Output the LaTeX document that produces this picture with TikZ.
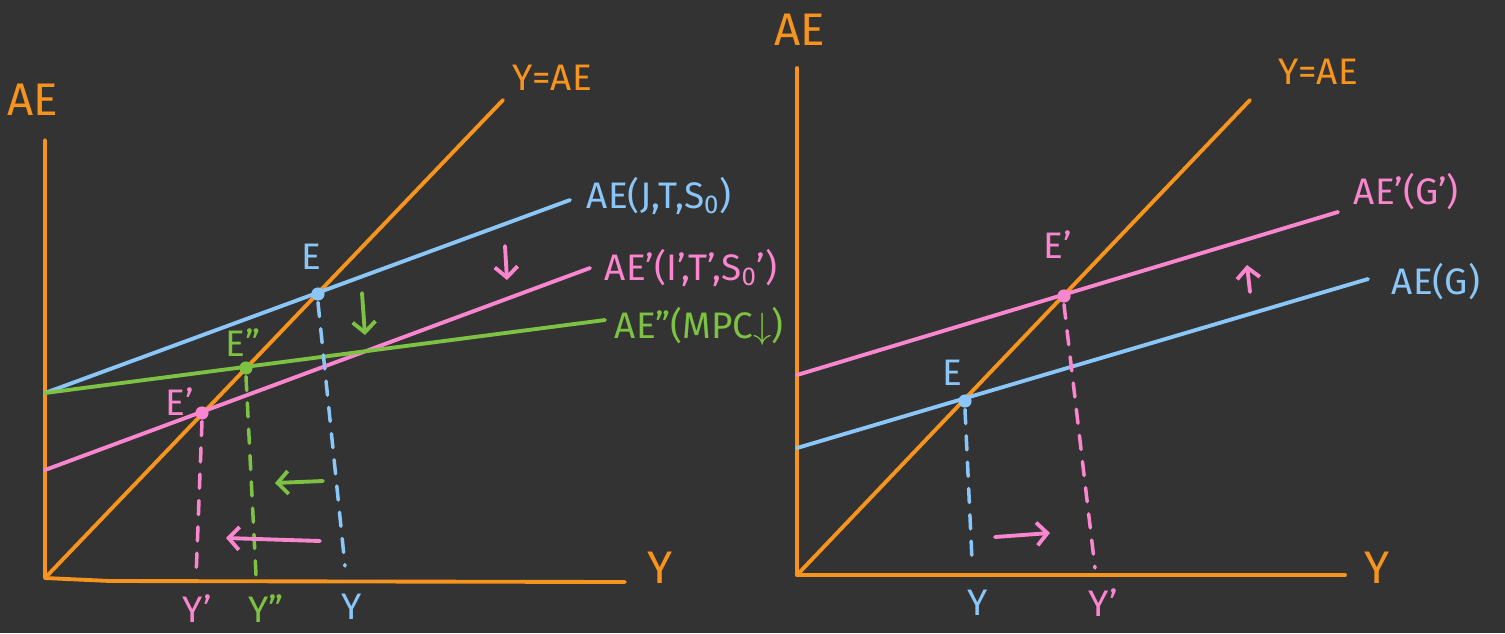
\documentclass[tikz,border=0pt]{standalone}
\usepackage{fontspec}
\setmainfont{Fira Sans}
\usetikzlibrary{arrows.meta}
\definecolor{bg}{HTML}{333333}
\definecolor{aeorange}{HTML}{F7941D}
\definecolor{aeblue}{HTML}{8AC6F7}
\definecolor{aepink}{HTML}{FA86CF}
\definecolor{aegreen}{HTML}{7DC243}
\begin{document}
\begin{tikzpicture}[x=0.02cm,y=-0.02cm, line width=2.2pt, line cap=round, line join=round,
  dot/.style={circle,fill,inner sep=0pt,minimum size=7.5pt},
  lbl/.style={font=\fontsize{21}{24}\selectfont, inner sep=0pt},
  axlbl/.style={font=\fontsize{26}{30}\selectfont, inner sep=0pt},
  vdash/.style={dash pattern=on 8pt off 7pt, line width=2pt},
  shiftarrow/.style={-{Straight Barb[length=6pt,width=13pt]}, line width=2.2pt}]
\fill[bg] (0,0) rectangle (1505,633);
\useasboundingbox (0,0) rectangle (1505,633);

% ---------------- left diagram ----------------
\coordinate (O1) at (45,578);
\coordinate (Yt1) at (45,140);
\coordinate (Xk1) at (110,581);
\coordinate (Xe1) at (625,582);
\coordinate (D1) at (503,100);
\coordinate (B1s) at (45,393);
\coordinate (B1e) at (570,200);
\coordinate (P1s) at (45,470);
\coordinate (P1e) at (590,268);
\coordinate (G1s) at (45,393);
\coordinate (G1e) at (605,320);

\draw[aeorange] (Yt1) -- (O1) -- (Xk1) -- (Xe1);
\draw[aeorange] (O1) -- (D1);
\draw[aeblue] (B1s) -- (B1e);
\draw[aepink] (P1s) -- (P1e);
\draw[aegreen] (G1s) -- (G1e);

\node[axlbl,text=aeorange] (ae1) at (33,100) {AE};
\node[axlbl,text=aeorange] (y1) at (660,568) {Y};
\node[lbl,text=aeorange] (yae1) at (552,78) {Y=AE};
\node[lbl,text=aeblue,anchor=west] (lb1) at (585,196) {AE(J,T,S\textsubscript{0})};
\node[lbl,text=aepink,anchor=west] (lp1) at (603,268) {AE’(I’,T’,S\textsubscript{0}’)};
\node[lbl,text=aegreen,anchor=west] (lg1) at (613,326) {AE”(MPC$\downarrow$)};

\node[dot,fill=aeblue] (E1) at (318,294) {};
\node[dot,fill=aegreen] (E1g) at (246,368) {};
\node[dot,fill=aepink] (E1p) at (202,413) {};
\node[lbl,text=aeblue] (lE1) at (311,257) {E};
\node[lbl,text=aegreen] (lE1g) at (243,343) {E”};
\node[lbl,text=aepink] (lE1p) at (180,402) {E’};

\coordinate (fb1) at (345,566);
\coordinate (fg1) at (256,575);
\coordinate (fp1) at (196,578);
\draw[aeblue,vdash] (E1.south) -- (fb1);
\draw[aegreen,vdash] (E1g.south) -- (fg1);
\draw[aepink,vdash] (E1p.south) -- (fp1);

\node[lbl,text=aepink] (ly1p) at (197,609) {Y’};
\node[lbl,text=aegreen] (ly1g) at (266,609) {Y”};
\node[lbl,text=aeblue] (ly1) at (352,607) {Y};

\coordinate (ga1) at (362,293); \coordinate (gb1) at (365,335);
\draw[aegreen,shiftarrow] (ga1) -- (gb1);
\coordinate (pa1) at (505,246); \coordinate (pb1) at (507,280);
\draw[aepink,shiftarrow] (pa1) -- (pb1);
\coordinate (gc1) at (323,481); \coordinate (gd1) at (275,483);
\draw[aegreen,shiftarrow] (gc1) -- (gd1);
\coordinate (pc1) at (320,541); \coordinate (pd1) at (226,538);
\draw[aepink,shiftarrow] (pc1) -- (pd1);

% ---------------- right diagram ----------------
\coordinate (O2) at (797,575);
\coordinate (Yt2) at (797,68);
\coordinate (Xe2) at (1345,575);
\coordinate (D2) at (1250,100);
\coordinate (B2s) at (797,448);
\coordinate (B2e) at (1368,279);
\coordinate (P2s) at (797,375);
\coordinate (P2e) at (1338,212);

\draw[aeorange] (Yt2) -- (O2) -- (Xe2);
\draw[aeorange] (O2) -- (D2);
\draw[aeblue] (B2s) -- (B2e);
\draw[aepink] (P2s) -- (P2e);

\node[axlbl,text=aeorange] (ae2) at (800,30) {AE};
\node[axlbl,text=aeorange] (y2) at (1377,568) {Y};
\node[lbl,text=aeorange] (yae2) at (1318,72) {Y=AE};
\node[lbl,text=aepink,anchor=west] (lp2) at (1352,192) {AE’(G’)};
\node[lbl,text=aeblue,anchor=west] (lb2) at (1390,282) {AE(G)};

\node[dot,fill=aeblue] (E2) at (965,401) {};
\node[dot,fill=aepink] (E2p) at (1064,296) {};
\node[lbl,text=aeblue] (lE2) at (952,373) {E};
\node[lbl,text=aepink] (lE2p) at (1058,245) {E’};

\coordinate (fb2) at (972,560);
\coordinate (fp2) at (1095,568);
\draw[aeblue,vdash] (E2.south) -- (fb2);
\draw[aepink,vdash] (E2p.south) -- (fp2);

\node[lbl,text=aeblue] (ly2) at (978,603) {Y};
\node[lbl,text=aepink] (ly2p) at (1103,603) {Y’};

\coordinate (pa2) at (995,537); \coordinate (pb2) at (1050,533);
\draw[aepink,shiftarrow] (pa2) -- (pb2);
\coordinate (pc2) at (1250,292); \coordinate (pd2) at (1247,265);
\draw[aepink,shiftarrow] (pc2) -- (pd2);
\end{tikzpicture}
\end{document}
